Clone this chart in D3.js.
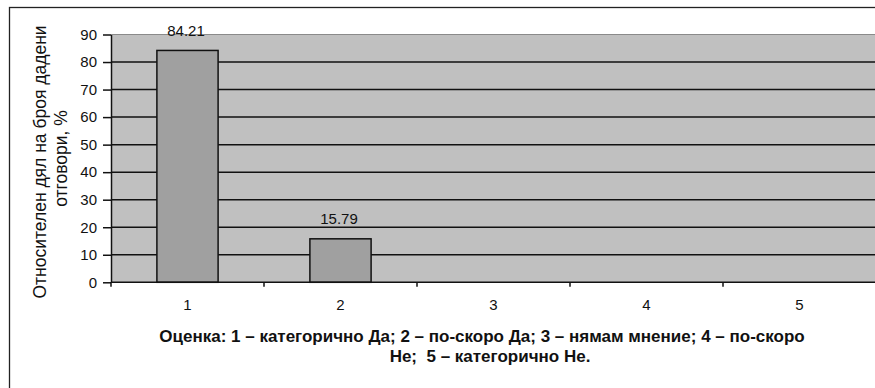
<!DOCTYPE html>
<html>
<head>
<meta charset="utf-8">
<script src="https://cdn.jsdelivr.net/npm/d3@7"></script>
<style>
  html, body { margin: 0; padding: 0; background: #fff; }
  svg { display: block; }
  text { font-family: 'Liberation Sans', Arial, sans-serif; }
</style>
</head>
<body>
<svg id="chart" width="875" height="388"></svg>
<script>
const categories = ["1", "2", "3", "4", "5"];
const values = [84.21, 15.79, 0, 0, 0];
const yTicks = [0, 10, 20, 30, 40, 50, 60, 70, 80, 90];
const yTitle = ["Относителен дял на броя дадени", "отговори, %"];
const xTitle = ["Оценка: 1 – категорично Да; 2 – по-скоро Да; 3 – нямам мнение; 4 – по-скоро", "Не;  5 – категорично Не."];

const data = categories.map((c, i) => ({ cat: c, value: values[i] }));

const svg = d3.select("#chart");
const W = 875, H = 388;
const plot = { left: 111, right: 876, top: 34.5, bottom: 282.3 };

svg.append("rect").attr("width", W).attr("height", H).attr("fill", "#fff");
// outer chart border
svg.append("rect")
  .attr("x", 9.5).attr("y", 7.5).attr("width", 900).attr("height", 420)
  .attr("fill", "none").attr("stroke", "#222").attr("stroke-width", 1.3);

const x = d3.scaleBand().domain(categories)
  .range([plot.left, plot.right]).paddingInner(0.6).paddingOuter(0.3);
const y = d3.scaleLinear().domain([0, 90]).range([plot.bottom, plot.top]);

// plot area
svg.append("rect")
  .attr("x", plot.left).attr("y", plot.top)
  .attr("width", plot.right - plot.left).attr("height", plot.bottom - plot.top)
  .attr("fill", "#c0c0c0");
svg.append("line")
  .attr("x1", plot.left).attr("x2", plot.right)
  .attr("y1", plot.top).attr("y2", plot.top)
  .attr("stroke", "#8a8a8a").attr("stroke-width", 1.2);

// gridlines
svg.append("g").selectAll("line")
  .data(yTicks.filter(t => t > 0 && t < 90))
  .join("line")
  .attr("x1", plot.left).attr("x2", plot.right)
  .attr("y1", d => y(d)).attr("y2", d => y(d))
  .attr("stroke", "#111").attr("stroke-width", 1.5);

// bars
svg.append("g").selectAll("rect")
  .data(data.filter(d => d.value > 0))
  .join("rect")
  .attr("x", d => x(d.cat))
  .attr("width", x.bandwidth())
  .attr("y", d => y(d.value))
  .attr("height", d => y(0) - y(d.value))
  .attr("fill", "#a0a0a0")
  .attr("stroke", "#111").attr("stroke-width", 1.5);

// data labels
svg.append("g").selectAll("text")
  .data(data.filter(d => d.value > 0))
  .join("text")
  .attr("x", d => x(d.cat) + x.bandwidth() / 2 - 1.5)
  .attr("y", d => y(d.value) - 14.5)
  .attr("text-anchor", "middle")
  .attr("font-size", 15)
  .attr("fill", "#111")
  .text(d => d.value.toFixed(2));

// y axis
const yAxis = d3.axisLeft(y).tickValues(yTicks).tickSize(8).tickPadding(6).tickSizeOuter(0);
const gy = svg.append("g").attr("transform", `translate(${plot.left},0)`).call(yAxis);
gy.attr("font-family", null).attr("font-size", 15);
gy.select(".domain").attr("stroke", "#111").attr("stroke-width", 1.5);
gy.selectAll(".tick line").attr("stroke", "#111").attr("stroke-width", 1.5);
gy.selectAll(".tick text").attr("fill", "#111");

// x axis: labels centered, ticks at band boundaries
const gx = svg.append("g").attr("transform", `translate(0,${plot.bottom})`);
gx.append("line").attr("x1", plot.left).attr("x2", plot.right)
  .attr("stroke", "#111").attr("stroke-width", 1.5);
const step = x.step();
const boundaries = categories.map(c => x(c) - x.paddingOuter() * step);
gx.selectAll("line.tk").data(boundaries).join("line").attr("class", "tk")
  .attr("x1", d => d).attr("x2", d => d).attr("y1", 0).attr("y2", 4.5)
  .attr("stroke", "#111").attr("stroke-width", 1.5);
gx.selectAll("text").data(categories).join("text")
  .attr("x", d => x(d) + x.bandwidth() / 2)
  .attr("y", 27.5)
  .attr("text-anchor", "middle")
  .attr("font-size", 15)
  .attr("fill", "#111")
  .text(d => d);

// x title
[[482, 342], [490, 361.5]].forEach((p, i) => {
  svg.append("text")
    .attr("x", p[0]).attr("y", p[1])
    .attr("font-size", 17).attr("font-weight", "bold").attr("fill", "#111")
    .attr("text-anchor", "middle").style("white-space", "pre")
    .text(xTitle[i]);
});

// y title (rotated)
[[46, 162], [67, 158.5]].forEach((p, i) => {
  svg.append("text")
    .attr("transform", `translate(${p[0]},${p[1]}) rotate(-90)`)
    .attr("font-size", 17.5).attr("fill", "#111")
    .attr("text-anchor", "middle")
    .text(yTitle[i]);
});
</script>
</body>
</html>
